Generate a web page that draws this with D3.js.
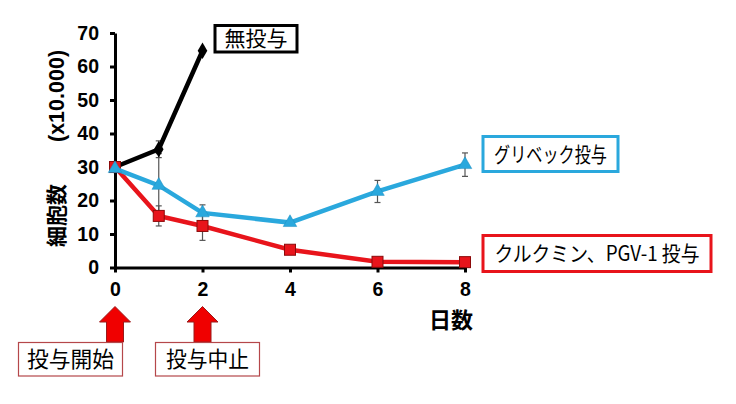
<!DOCTYPE html>
<html><head><meta charset="utf-8">
<script src="https://cdn.jsdelivr.net/npm/d3@7"></script>
<style>
body{margin:0;background:#fff;}
svg{display:block;}
text.num, tspan.num{font-family:"Liberation Sans",Arial,sans-serif;font-weight:bold;}
text.jp, tspan.jp{font-family:"Noto Sans CJK JP",sans-serif;}
</style></head>
<body>
<svg id="c" width="736" height="404"></svg>
<script>
const blackDays = [0, 1, 2];
const blackVals = [30, 35.3, 64.7];
const blackErr  = [0, 2.5, 0];
const days = [0, 1, 2, 4, 6, 8];
const blueVals = [29.5, 24.5, 16.3, 13.4, 22.7, 30.7];
const blueErr  = [0, 9.5, 2.4, 0, 3.3, 3.5];
const redVals  = [30, 15.4, 12.4, 5.3, 1.7, 1.6];
const redErr   = [0, 3.0, 4.3, 0, 0, 0];
const yTicks = [0, 10, 20, 30, 40, 50, 60, 70];
const xTicks = [0, 2, 4, 6, 8];
const yLabelMain = "細胞数";
const yLabelUnit = "(x10.000)";
const xLabel = "日数";
const seriesLabels = ["無投与", "グリベック投与", "クルクミン、PGV-1 投与"];
const eventDays = [0, 2];
const eventLabels = ["投与開始", "投与中止"];

const svg = d3.select("#c");
svg.append("rect").attr("width",736).attr("height",404).attr("fill","#fff");

const x = d3.scaleLinear().domain([0,8]).range([115,465]);
const y = d3.scaleLinear().domain([0,70]).range([267.5,33]);

const BLUE = "#2aa8dd", RED = "#e8141b", DRED = "#8c0a0a";

// axes
const yAxis = d3.axisLeft(y).tickValues(yTicks).tickSize(5).tickSizeOuter(0).tickPadding(5);
const gy = svg.append("g").attr("transform","translate(115,0)").call(yAxis);
gy.attr("font-family",null).attr("font-size",null);
gy.select(".domain").attr("stroke","#000").attr("stroke-width",3);
gy.selectAll(".tick line").attr("stroke","#000").attr("stroke-width",3);
gy.selectAll(".tick text").attr("class","num").attr("font-size",19.5).attr("fill","#000").attr("x",-16);

const xAxis = d3.axisBottom(x).tickValues(xTicks).tickSize(5).tickSizeOuter(0).tickPadding(10);
const gx = svg.append("g").attr("transform","translate(0,267.5)").call(xAxis);
gx.attr("font-family",null).attr("font-size",null);
gx.select(".domain").attr("stroke","#000").attr("stroke-width",3);
gx.selectAll(".tick line").attr("stroke","#000").attr("stroke-width",3);
gx.selectAll(".tick text").attr("class","num").attr("font-size",19.5).attr("fill","#000");

// y label
const yl = svg.append("text").attr("transform","translate(64,247) rotate(-90)").attr("fill","#000");
yl.append("tspan").attr("class","jp").attr("font-size",21).attr("font-weight","bold").text(yLabelMain);
yl.append("tspan").attr("class","num").attr("font-size",21.5).attr("dx",42).text(yLabelUnit);

svg.append("text").attr("class","jp").attr("x",451).attr("y",328).attr("text-anchor","middle")
  .attr("font-size",22).attr("font-weight","bold").attr("fill","#000").text(xLabel);

// error bars
function errBars(xs, vs, es){
  const g = svg.append("g").attr("stroke","#555").attr("stroke-width",1.2).attr("fill","none");
  xs.forEach((d,i)=>{
    if(!es[i]) return;
    const cx = x(d), y1 = y(vs[i]+es[i]), y2 = y(vs[i]-es[i]);
    g.append("line").attr("x1",cx).attr("x2",cx).attr("y1",y1).attr("y2",y2);
    g.append("line").attr("x1",cx-3).attr("x2",cx+3).attr("y1",y1).attr("y2",y1);
    g.append("line").attr("x1",cx-3).attr("x2",cx+3).attr("y1",y2).attr("y2",y2);
  });
}
errBars(blackDays, blackVals, blackErr);
errBars(days, blueVals, blueErr);
errBars(days, redVals, redErr);

const line = d3.line().x(d=>x(d[0])).y(d=>y(d[1]));

// black
svg.append("path").datum(blackDays.map((d,i)=>[d,blackVals[i]])).attr("d",line)
  .attr("fill","none").attr("stroke","#000").attr("stroke-width",4.5);
svg.selectAll(".bm").data(blackDays.map((d,i)=>[d,blackVals[i]])).enter().append("path")
  .attr("d",d3.symbol(d3.symbolDiamond,80)()).attr("transform",d=>`translate(${x(d[0])},${y(d[1])})`)
  .attr("fill","#000");

// red
const redPts = days.map((d,i)=>[d,redVals[i]]);
svg.append("path").datum(redPts).attr("d",line)
  .attr("fill","none").attr("stroke",RED).attr("stroke-width",4.5);
svg.selectAll(".rm").data(redPts).enter().append("rect")
  .attr("x",d=>x(d[0])-5.5).attr("y",d=>y(d[1])-5.5).attr("width",11).attr("height",11)
  .attr("fill",RED).attr("stroke",DRED).attr("stroke-width",1);

// blue
const bluePts = days.map((d,i)=>[d,blueVals[i]]);
svg.append("path").datum(bluePts).attr("d",line)
  .attr("fill","none").attr("stroke",BLUE).attr("stroke-width",4.5);
svg.selectAll(".blm").data(bluePts).enter().append("path")
  .attr("d",d3.symbol(d3.symbolTriangle,80)()).attr("transform",d=>`translate(${x(d[0])},${y(d[1])})`)
  .attr("fill",BLUE).attr("stroke","#1e8fc0").attr("stroke-width",0.5);

// series label boxes
function box(x0,y0,w,h,stroke,sw,txt,fs,tl){
  svg.append("rect").attr("x",x0).attr("y",y0).attr("width",w).attr("height",h)
    .attr("fill","#fff").attr("stroke",stroke).attr("stroke-width",sw);
  const t = svg.append("text").attr("class","jp").attr("x",x0+w/2).attr("y",y0+h/2)
    .attr("dy","0.36em").attr("text-anchor","middle").attr("font-size",fs).attr("fill","#000").text(txt);
  if(tl) t.attr("textLength",tl).attr("lengthAdjust","spacingAndGlyphs");
}
box(215,25.5,82,26.5,"#000",3,seriesLabels[0],21,63);
box(483,136.5,135,35,BLUE,3,seriesLabels[1],21,113);
box(483,235.5,228,36,RED,3,seriesLabels[2],21,205);

// arrows
eventDays.forEach((d,i)=>{
  const cx = x(d);
  const tip = 306.5, hb = 322, bot = 342, hw = 15.5, sw = 8.5;
  svg.append("path").attr("d",
    `M${cx},${tip} L${cx+hw},${hb} L${cx+sw},${hb} L${cx+sw},${bot} L${cx-sw},${bot} L${cx-sw},${hb} L${cx-hw},${hb} Z`)
    .attr("fill","#f00000").attr("stroke","#9a1a1a").attr("stroke-width",1);
});
const evBoxX = [18.5,155.5];
eventLabels.forEach((t,i)=>{
  box(evBoxX[i],342.5,104,33.5,"#b5474a",1.2,t,22,i===0?87:83);
});
</script>
</body></html>
